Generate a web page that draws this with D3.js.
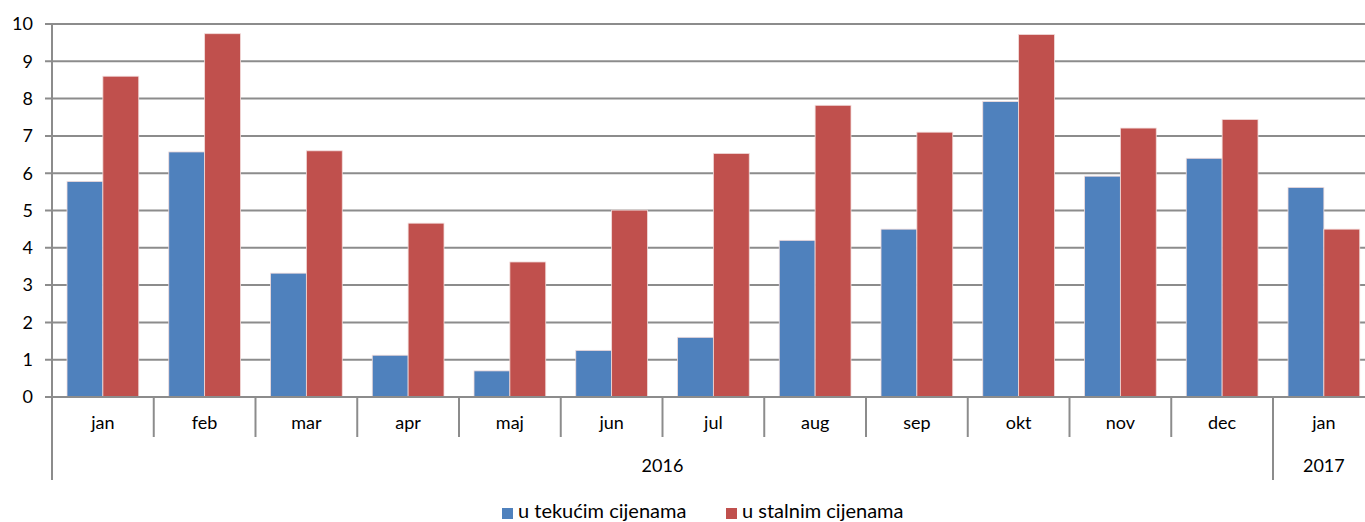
<!DOCTYPE html>
<html>
<head>
<meta charset="utf-8">
<script src="https://cdn.jsdelivr.net/npm/d3@7"></script>
<style>
  body { margin: 0; background: #fff; }
  text { font-family: Lato, "Open Sans", sans-serif; fill: #000; }
</style>
</head>
<body>
<svg id="chart" width="1365" height="522"></svg>
<script>
var months = ["jan", "feb", "mar", "apr", "maj", "jun", "jul", "aug", "sep", "okt", "nov", "dec", "jan"];
var years = [{label: "2016", from: 0, to: 12}, {label: "2017", from: 12, to: 13}];
var seriesNames = ["u tekućim cijenama", "u stalnim cijenama"];
var tekuce = [5.78, 6.57, 3.32, 1.12, 0.7, 1.25, 1.6, 4.2, 4.5, 7.92, 5.92, 6.4, 5.62];
var stalne = [8.6, 9.74, 6.6, 4.66, 3.62, 5.01, 6.53, 7.82, 7.1, 9.72, 7.21, 7.44, 4.5];
var yTicks = [0, 1, 2, 3, 4, 5, 6, 7, 8, 9, 10];
var colors = ["#4F81BD", "#C0504D"];

var plotLeft = 52, plotTop = 24, plotBottom = 397, step = 101.75;
var svg = d3.select("#chart");

var idx = d3.range(months.length);
var x = d3.scaleBand()
    .domain(idx)
    .range([plotLeft, plotLeft + step * months.length])
    .paddingInner(0.295)
    .paddingOuter(0.1475);
var x1 = d3.scaleBand().domain([0, 1]).range([0, x.bandwidth()]);
var y = d3.scaleLinear().domain([0, 10]).range([plotBottom, plotTop]);

// gridlines
svg.append("g")
    .selectAll("line")
    .data(yTicks)
    .join("line")
    .attr("x1", plotLeft - 7)
    .attr("x2", 1365)
    .attr("y1", function(d) { return y(d); })
    .attr("y2", function(d) { return y(d); })
    .attr("stroke", "#8c8c8c")
    .attr("stroke-width", 2);

// y labels
svg.append("g")
    .selectAll("text")
    .data(yTicks)
    .join("text")
    .attr("x", 33)
    .attr("y", function(d) { return y(d); })
    .attr("dy", "0.35em")
    .attr("text-anchor", "end")
    .style("font-size", "18px")
    .text(function(d) { return d; });

// bars
var data = idx.map(function(i) { return [tekuce[i], stalne[i]]; });
svg.append("g")
    .selectAll("g")
    .data(data)
    .join("g")
    .attr("transform", function(d, i) { return "translate(" + x(i) + ",0)"; })
    .selectAll("rect")
    .data(function(d) { return d; })
    .join("rect")
    .attr("x", function(d, j) { return x1(j); })
    .attr("width", x1.bandwidth())
    .attr("y", function(d) { return y(d); })
    .attr("height", function(d) { return plotBottom - y(d); })
    .attr("fill", function(d, j) { return colors[j]; })
    .attr("stroke", "#f2dcdb")
    .attr("stroke-width", 0.8);

// axis lines
var axis = svg.append("g").attr("stroke", "#8c8c8c").attr("stroke-width", 2);
axis.append("line").attr("x1", plotLeft).attr("x2", plotLeft).attr("y1", plotTop).attr("y2", 480);
axis.append("line").attr("x1", plotLeft).attr("x2", 1365).attr("y1", plotBottom).attr("y2", plotBottom);
idx.slice(1).forEach(function(i) {
  var bx = plotLeft + step * i;
  var isYear = years.some(function(yr) { return yr.from === i; });
  axis.append("line").attr("x1", bx).attr("x2", bx).attr("y1", plotBottom).attr("y2", isYear ? 480 : 437);
});

// month labels
svg.append("g")
    .selectAll("text")
    .data(months)
    .join("text")
    .attr("x", function(d, i) { return plotLeft + step * (i + 0.5); })
    .attr("y", 429)
    .attr("text-anchor", "middle")
    .style("font-size", "18px")
    .text(function(d) { return d; });

// year labels
svg.append("g")
    .selectAll("text")
    .data(years)
    .join("text")
    .attr("x", function(d) { return plotLeft + step * (d.from + d.to) / 2; })
    .attr("y", 472)
    .attr("text-anchor", "middle")
    .style("font-size", "18px")
    .text(function(d) { return d.label; });

// legend
var legend = svg.append("g");
var lx = [502, 726];
seriesNames.forEach(function(name, j) {
  legend.append("rect")
      .attr("x", lx[j]).attr("y", 508).attr("width", 11).attr("height", 11)
      .attr("fill", colors[j]);
  legend.append("text")
      .attr("x", lx[j] + 16).attr("y", 518)
      .style("font-size", "20px")
      .text(name);
});
</script>
</body>
</html>
